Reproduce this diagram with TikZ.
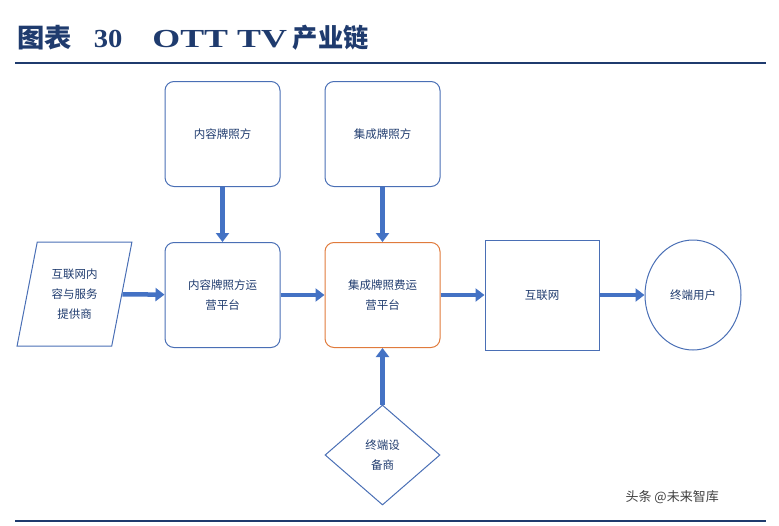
\documentclass[tikz,border=0pt]{standalone}
\usepackage{graphicx}
\usepackage{fontspec}
\setmainfont{Liberation Serif}
\newfontfamily\cjk{Noto Sans CJK SC}
\usetikzlibrary{shapes.geometric,arrows.meta}
\definecolor{navy}{HTML}{1F3B6E}
\definecolor{bdr}{HTML}{4A6FB5}
\definecolor{arr}{HTML}{4472C4}
\definecolor{org}{HTML}{E07B3C}
\begin{document}
\begin{tikzpicture}[x=1pt,y=-1pt,
  box/.style={draw=bdr,line width=1pt,rounded corners=9pt,minimum width=115pt,minimum height=105pt,align=center,text=navy,font=\cjk\fontsize{11.5}{20}\selectfont,text width=80pt},
  ar/.style={draw=arr,line width=4.5pt,-{Triangle[length=9pt,width=13pt]}}]
\useasboundingbox (0,0) rectangle (779,525);
\node[anchor=west,text=navy,font=\cjk\bfseries\fontsize{26}{28}\selectfont,inner sep=0pt] (title) at (17,38) {\scalebox{1.05}[1]{图表}\hspace{22pt}\scalebox{1.1}[1]{\rmfamily\bfseries 30}\hspace{30pt}\scalebox{1.38}[1]{\rmfamily\bfseries OTT TV}\hspace{6pt}\scalebox{0.97}[1]{产业链}};
\draw[navy,line width=1.8pt] (15,63) -- (766,63);
\draw[navy,line width=1.5pt] (15,521) -- (766,521);
\node[box] (ck) at (222.5,134) {内容牌照方};
\node[box] (jk) at (382.5,134) {集成牌照方};
\node[box] (cp) at (222.5,295) {内容牌照方运\\营平台};
\node[box,draw=org,text width=90pt] (jp) at (382.5,295) {集成牌照费运\\营平台};
\node[draw=bdr,line width=1pt,trapezium,trapezium left angle=76,trapezium right angle=104,minimum width=115pt,minimum height=104pt,trapezium stretches=true,align=center,text=navy,font=\cjk\fontsize{11.5}{20}\selectfont] (isp) at (74.5,294) {互联网内\\容与服务\\提供商};
\node[draw=bdr,line width=1pt,minimum width=114pt,minimum height=110pt,text=navy,font=\cjk\fontsize{11.5}{20}\selectfont] (net) at (542,295) {互联网};
\node[draw=bdr,line width=1pt,ellipse,minimum width=96pt,minimum height=110pt,text=navy,font=\cjk\fontsize{11.5}{20}\selectfont] (user) at (693,295) {终端用户};
\node[draw=bdr,line width=1pt,diamond,minimum width=115pt,minimum height=100pt,inner sep=0pt,aspect=1.15,align=center,text=navy,font=\cjk\fontsize{11.5}{20}\selectfont] (dev) at (382.5,455) {终端设\\备商};
\draw[ar] (ck) -- (cp);
\draw[ar] (jk) -- (jp);
\draw[ar] (dev) -- (jp);
\draw[ar] (isp) -- (cp);
\draw[ar] (cp) -- (jp);
\draw[ar] (jp) -- (net);
\draw[ar] (net) -- (user);
\node[anchor=west,text=black!75,font=\cjk\fontsize{13}{15}\selectfont] (wm) at (622,497) {头条 @未来智库};
\end{tikzpicture}
\end{document}
